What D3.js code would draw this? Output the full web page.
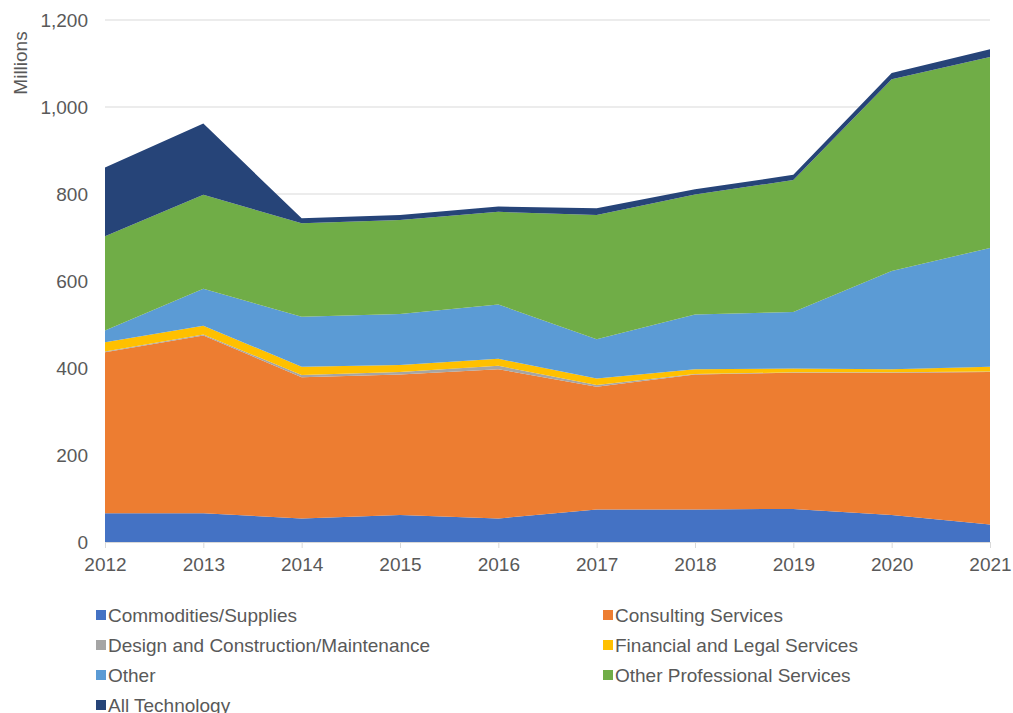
<!DOCTYPE html>
<html><head><meta charset="utf-8">
<script src="https://cdn.jsdelivr.net/npm/d3@7"></script>
<style>body{margin:0;background:#fff;}svg{display:block;font-family:"Liberation Sans",Arial,sans-serif;}</style>
</head><body>
<svg id="chart" width="1013" height="713"></svg>
<script>
const years = [2012,2013,2014,2015,2016,2017,2018,2019,2020,2021];
const seriesNames = ["Commodities/Supplies","Consulting Services","Design and Construction/Maintenance","Financial and Legal Services","Other","Other Professional Services","All Technology"];
const commodities = [66,66,54,62,54,75,75,76,62,40];
const consulting = [370,409,325,323,343,282,310,313,327,351];
const design = [2,2,5,6,8,4,1,1,1,1];
const financial = [21,20,19,16,16,15,11,9,7,11];
const other = [27,85,115,117,125,90,126,130,226,273];
const otherProfessional = [217,216,215,216,213,286,276,303,441,439];
const technology = [158,164,11,12,12,15,12,12,14,18];
const colors = ["#4472C4","#ED7D31","#A5A5A5","#FFC000","#5B9BD5","#70AD47","#264478"];
const yTicks = [0,200,400,600,800,1000,1200];

const seriesValues = [commodities,consulting,design,financial,other,otherProfessional,technology];
const rows = years.map((y,i)=>{const r={year:y};seriesNames.forEach((n,k)=>r[n]=seriesValues[k][i]);return r;});
const stack = d3.stack().keys(seriesNames)(rows);

const svg = d3.select("#chart");
const x = d3.scaleLinear().domain([2012,2021]).range([105,990]);
const y = d3.scaleLinear().domain([0,1200]).range([542,20]);
const FS = "19px";

// gridlines
svg.append("g").selectAll("line").data(yTicks.filter(t=>t>0)).join("line")
  .attr("x1",105).attr("x2",990).attr("y1",d=>y(d)).attr("y2",d=>y(d))
  .attr("stroke","#d9d9d9").attr("stroke-width",1);

const area = d3.area().x(d=>x(d.data.year)).y0(d=>y(d[0])).y1(d=>y(d[1]));
svg.append("g").selectAll("path").data(stack).join("path")
  .attr("d",area).attr("fill",(d,i)=>colors[i]);

// y axis
const yAxis = svg.append("g").attr("transform","translate(105,0)")
  .call(d3.axisLeft(y).tickValues(yTicks).tickFormat(d3.format(",")).tickSize(0).tickPadding(17));
yAxis.select(".domain").remove();
yAxis.selectAll("text").attr("fill","#595959").style("font-size",FS).style("font-family","'Liberation Sans',Arial,sans-serif");

// x axis
const xAxis = svg.append("g").attr("transform","translate(0,542)")
  .call(d3.axisBottom(x).tickValues(years).tickFormat(d3.format("d")).tickSize(6).tickSizeOuter(0));
xAxis.select(".domain").attr("stroke","#d9d9d9");
xAxis.selectAll(".tick line").attr("stroke","#d9d9d9");
xAxis.selectAll("text").attr("y",29).attr("dy",null).attr("fill","#595959").style("font-size",FS).style("font-family","'Liberation Sans',Arial,sans-serif");

svg.append("text").attr("transform","translate(27,63) rotate(-90)").attr("text-anchor","middle")
  .attr("fill","#595959").style("font-size",FS).text("Millions");

// legend
const legendPos = seriesNames.map((n,i)=>({name:n,color:colors[i],col:i%2,row:Math.floor(i/2)}));
const lg = svg.append("g").selectAll("g").data(legendPos).join("g")
  .attr("transform",d=>`translate(${d.col?603:96},${615+d.row*30})`);
lg.append("rect").attr("x",0).attr("y",-5).attr("width",10).attr("height",10).attr("fill",d=>d.color);
lg.append("text").attr("x",12).attr("y",7).attr("fill","#595959").style("font-size",FS).text(d=>d.name);
</script>
</body></html>
